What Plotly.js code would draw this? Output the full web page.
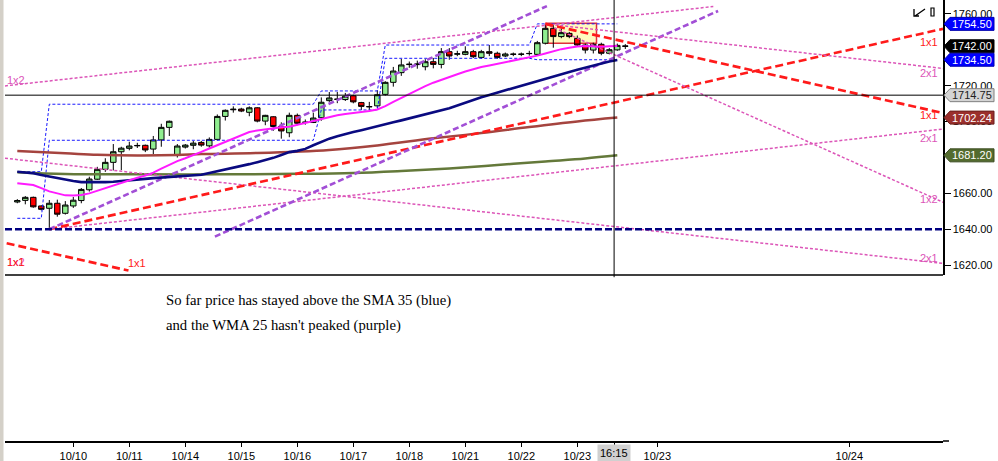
<!DOCTYPE html>
<html><head><meta charset="utf-8">
<script src="https://cdn.plot.ly/plotly-3.0.1.min.js"></script>
<style>html,body{margin:0;padding:0;background:#fff;}#chart{width:998px;height:461px;}</style>
</head><body><div id="chart"></div>
<script>
// ---- candle data (bar index 0..76) ----
const openP = [1655.2,1656.1,1657.8,1653.0,1651.7,1654.5,1648.9,1653.0,1656.0,1662.0,
1667.9,1673.4,1677.3,1683.2,1685.1,1686.5,1686.8,1684.7,1689.8,1696.8,
1681.4,1685.8,1686.8,1688.4,1686.5,1690.1,1702.9,1706.6,1707.0,1705.2,
1707.7,1700.3,1702.7,1697.3,1693.8,1703.5,1699.5,1699.5,1702.2,1711.7,
1712.4,1712.3,1714.4,1710.6,1708.2,1708.8,1715.2,1721.9,1727.3,1731.8,
1731.8,1730.6,1733.4,1731.9,1739.0,1737.6,1737.5,1739.0,1735.8,1739.0,
1738.1,1736.6,1737.5,1737.5,1737.9,1737.5,1743.7,1752.0,1747.4,1749.2,
1746.4,1742.7,1739.9,1743.1,1738.1,1740.0,1742.2];
const highP = [1656.8,1658.5,1658.2,1653.3,1656.3,1656.5,1655.7,1658.0,1663.0,1669.3,
1674.8,1679.6,1687.5,1686.0,1688.8,1688.2,1687.2,1692.0,1698.8,1700.6,
1687.5,1687.5,1689.2,1689.2,1691.2,1704.0,1706.8,1708.5,1707.7,1708.5,
1708.0,1703.8,1703.0,1699.6,1705.0,1704.5,1701.2,1705.0,1713.5,1716.5,
1716.5,1716.0,1715.0,1711.0,1711.0,1717.5,1722.5,1730.5,1735.0,1733.5,
1734.0,1734.8,1735.5,1741.0,1741.0,1739.5,1742.0,1740.0,1740.0,1742.7,
1739.0,1738.5,1738.5,1738.5,1739.5,1745.0,1754.5,1754.5,1752.0,1750.0,
1748.0,1743.5,1744.0,1744.0,1741.0,1743.5,1743.2];
const lowP = [1654.5,1653.9,1652.0,1650.5,1640.25,1647.0,1648.2,1651.9,1654.5,1661.0,
1667.5,1672.0,1672.8,1673.0,1684.0,1685.3,1683.0,1681.9,1686.0,1692.0,
1680.0,1685.0,1684.6,1686.0,1685.5,1689.5,1700.6,1705.0,1705.3,1703.0,
1699.6,1698.0,1694.9,1690.5,1691.3,1698.0,1698.3,1699.2,1700.5,1711.0,
1710.3,1711.5,1710.2,1706.5,1706.5,1707.5,1714.5,1719.5,1725.5,1730.0,
1729.5,1728.6,1729.7,1729.7,1734.5,1736.5,1737.0,1735.5,1735.0,1736.5,
1735.0,1736.0,1736.5,1736.5,1736.8,1737.0,1743.0,1741.2,1746.5,1746.5,
1742.0,1738.0,1738.0,1737.0,1737.5,1739.5,1740.5];
const closeP = [1656.0,1657.8,1652.5,1651.1,1654.5,1648.4,1653.5,1656.2,1662.2,1668.0,
1673.4,1677.3,1683.2,1685.2,1686.4,1686.7,1684.2,1689.8,1696.8,1700.2,
1686.4,1686.9,1688.0,1686.9,1690.1,1702.9,1706.3,1706.9,1705.9,1707.7,
1700.3,1703.5,1697.3,1694.8,1703.5,1699.1,1699.7,1702.0,1710.8,1713.2,
1712.5,1714.2,1711.0,1708.5,1708.4,1715.0,1721.9,1728.2,1731.6,1732.0,
1732.1,1733.4,1731.9,1739.0,1736.6,1737.8,1739.0,1736.2,1739.0,1738.1,
1735.8,1737.7,1737.6,1737.6,1738.0,1744.0,1752.0,1747.4,1749.6,1747.4,
1742.7,1739.9,1743.1,1738.1,1740.1,1742.5,1742.0];

// ---- indicators (bar index 0..75) ----
const wma25 = [1665.6,1665.2,1664.7,1662.9,1661.1,1660.0,1658.9,1658.8,1659.1,1660.0,
1661.5,1662.8,1664.4,1666.0,1667.4,1668.7,1669.9,1671.6,1673.8,1675.9,
1678.0,1679.6,1681.2,1683.1,1685.0,1686.8,1688.7,1690.5,1692.4,1694.2,
1695.1,1695.8,1696.5,1696.8,1697.1,1698.2,1699.3,1700.4,1701.5,1702.7,
1703.5,1704.2,1704.8,1705.1,1705.9,1706.8,1708.6,1711.0,1713.3,1715.6,
1717.8,1719.8,1721.7,1723.4,1724.9,1726.4,1727.9,1729.2,1730.4,1731.3,
1732.2,1733.0,1733.9,1734.8,1735.8,1736.8,1738.0,1739.3,1740.4,1741.2,
1741.9,1742.1,1741.9,1741.8,1742.0,1742.2];
const sma35 = [1672.1,1671.7,1671.2,1670.3,1669.4,1668.5,1667.6,1666.9,1666.3,1666.2,
1666.2,1666.3,1666.5,1666.8,1667.3,1667.7,1668.1,1668.5,1668.8,1669.0,
1669.3,1669.6,1669.9,1670.4,1671.4,1672.3,1673.3,1674.2,1675.3,1676.3,
1677.4,1678.4,1679.8,1681.4,1683.0,1683.7,1684.8,1686.8,1688.7,1690.5,
1691.9,1693.2,1694.2,1695.2,1696.2,1697.2,1698.5,1699.6,1700.7,1701.8,
1702.8,1704.0,1705.2,1706.4,1707.5,1709.0,1710.6,1712.1,1713.6,1714.9,
1716.2,1717.6,1718.9,1720.1,1721.4,1722.7,1724.0,1725.3,1726.5,1727.7,
1728.9,1730.1,1731.4,1732.6,1733.5,1734.4];
const slowMaIdx = [0,6,10,15,20,23,30,39,45,52,58,64,70,75];
const slowMaVal = [1683.6,1682.4,1681.5,1681.1,1681.35,1681.9,1682.5,1684.2,1686.75,1690.7,1693.6,1697.0,1700.1,1702.24];
const longMaIdx = [0,6,15,25,35,42,48,54,60,66,71,75];
const longMaVal = [1671.8,1670.8,1670.6,1670.6,1670.9,1671.4,1672.5,1673.9,1675.8,1677.8,1679.45,1681.2];

// prior-range channel, one level per segment
const chanStart = [0,4,38,46,65];
const chanEnd   = [3,37,45,64,75];
const chanUpper = [1672.1,1709.7,1717.1,1742.7,1754.5];
const chanLower = [1646.1,1689.6,1706.5,1735.3,1734.5];

// Gann fan pivots [bar, price] and ratios (points per bar)
const lowPivot  = [4, 1640];
const highPivot = [66, 1754.5];
const fanRatios = [2, 1, 0.5];
const supportLevel = 1640;
const cursorPrice = 1714.75;
const cursorBar = 74.6;
const lastPrice = 1742.00;

// axis ticks
const tickBars = [7,14,21,28,35,42,49,56,63,70,80,104];
const tickLabels = ['10/10','10/11','10/14','10/15','10/16','10/17','10/18','10/21','10/22','10/23','10/23','10/24'];
const yTicks = [1620,1640,1660,1700,1720,1760];

// ---- build ----
const XMIN = -1.5375, XMAX = 115.7125;
const bars = openP.map((_, i) => i);
const ind = wma25.map((_, i) => i);

function chanSeries(levels) {
  const xs = [], ys = [];
  chanStart.forEach((s, k) => {
    for (let i = s; i <= chanEnd[k]; i++) { xs.push(i); ys.push(levels[k]); }
  });
  return {xs, ys};
}
const up = chanSeries(chanUpper), lo = chanSeries(chanLower);

function fan(pivot, ratio, dir, xEnd) {
  return {x: [pivot[0], xEnd], y: [pivot[1], pivot[1] + dir * ratio * (xEnd - pivot[0])]};
}
function ray(x0, y0, ratio, xEnd) {
  return {x: [x0, xEnd], y: [y0, y0 + ratio * (xEnd - x0)]};
}

const RED = '#ff1a1a', PURPLE = '#a24fd6', PINK = '#dc55b8';
const redLine = {color: RED, width: 2.6, dash: '8px,4px'};
const purLine = {color: PURPLE, width: 2.6, dash: '6px,3px'};
const pinkLine = {color: PINK, width: 1.5, dash: '3px,2px'};

function lineTrace(seg, line) {
  return {type: 'scatter', mode: 'lines', x: seg.x, y: seg.y, line: line, hoverinfo: 'skip', showlegend: false};
}

const traces = [
  {type:'scatter',mode:'lines',x:up.xs,y:up.ys,line:{color:'#1a1aff',width:1,dash:'3px,2px'},hoverinfo:'skip'},
  {type:'scatter',mode:'lines',x:lo.xs,y:lo.ys,line:{color:'#1a1aff',width:1,dash:'3px,2px'},hoverinfo:'skip'},
  {type:'scatter',mode:'lines',x:slowMaIdx,y:slowMaVal,line:{color:'#a5443f',width:2.5,shape:'spline'},hoverinfo:'skip'},
  {type:'scatter',mode:'lines',x:longMaIdx,y:longMaVal,line:{color:'#64793a',width:2.5,shape:'spline'},hoverinfo:'skip'},
  // fan lines
  lineTrace(ray(-1.54, 1719.9, 0.5, 87), pinkLine),
  lineTrace(ray(-1.54, 1679.6, -0.5, XMAX), pinkLine),
  lineTrace(ray(-1.33, 1632.2, -1, 13.9), redLine),
  lineTrace(fan(lowPivot, fanRatios[2], 1, XMAX), pinkLine),
  lineTrace(fan(lowPivot, fanRatios[1], 1, XMAX), redLine),
  lineTrace(fan(lowPivot, fanRatios[0], 1, 66.2), purLine),
  lineTrace(ray(24.7, 1635.9, 2, 87.6), purLine),
  lineTrace(fan(highPivot, fanRatios[2], -1, XMAX), pinkLine),
  lineTrace(fan(highPivot, fanRatios[0], -1, XMAX), pinkLine),
  lineTrace(fan(highPivot, fanRatios[1], -1, XMAX), redLine),
  {type:'scatter',mode:'lines',x:ind,y:sma35,line:{color:'#0a0a80',width:2.6},hoverinfo:'skip'},
  {type:'scatter',mode:'lines',x:ind,y:wma25,line:{color:'#ff1aff',width:2},hoverinfo:'skip'},
  {type:'candlestick', x: bars, open: openP, high: highP, low: lowP, close: closeP,
   increasing:{line:{color:'#000000',width:1},fillcolor:'#90ee90'},
   decreasing:{line:{color:'#000000',width:1},fillcolor:'#ff0000'},
   whiskerwidth:0, hoverinfo:'skip'}
];

const px2p = px => (px - 5) / 938;
const py2p = py => (441 - py) / 441;
const PPX = (1767.8 - 1614.5) / 275; // price per pixel
const PANE_BOTTOM = py2p(275);

const priceTags = [
  {v:1754.50, bg:'#0000ff', fg:'#ffffff', bd:'#0000b0'},
  {v:lastPrice, bg:'#000000', fg:'#ffffff', bd:'#000000'},
  {v:1734.50, bg:'#0000ff', fg:'#ffffff', bd:'#0000b0'},
  {v:cursorPrice, bg:'#d4d4d4', fg:'#202020', bd:'#808080'},
  {v:slowMaVal[slowMaVal.length-1], bg:'#9b2f2c', fg:'#ffffff', bd:'#6b1f1c'},
  {v:longMaVal[longMaVal.length-1], bg:'#536b2e', fg:'#ffffff', bd:'#3a4b20'}
];

const shapes = [
  {type:'rect', xref:'x', yref:'y', x0:66.1, x1:72.4, y0:1743.7, y1:1754.8,
   fillcolor:'rgba(255,250,170,0.75)', line:{color:'#e0303a', width:1.5}, layer:'below'},
  {type:'line', xref:'paper', yref:'y', x0:0, x1:1, y0:supportLevel, y1:supportLevel,
   line:{color:'#000080', width:2.4, dash:'7px,3px'}},
  {type:'line', xref:'paper', yref:'y', x0:0, x1:1, y0:cursorPrice, y1:cursorPrice, line:{color:'#000', width:1}},
  {type:'line', xref:'x', yref:'paper', x0:cursorBar, x1:cursorBar, y0:PANE_BOTTOM - 0.005, y1:1, line:{color:'#000', width:1}},
  {type:'line', xref:'paper', yref:'paper', x0:0, x1:1, y0:PANE_BOTTOM, y1:PANE_BOTTOM, line:{color:'#000', width:1.5}},
  {type:'line', xref:'paper', yref:'paper', x0:1, x1:px2p(949), y0:0, y1:0, line:{color:'#000', width:1.5}},
  {type:'rect', xref:'paper', yref:'paper', x0:px2p(0), x1:px2p(3.5), y0:-0.05, y1:1.01, fillcolor:'#d4d0c8', line:{width:0}},
  {type:'path', xref:'paper', yref:'paper', path:
    `M ${px2p(914)} ${py2p(9)} L ${px2p(914)} ${py2p(16)} L ${px2p(919)} ${py2p(16)} M ${px2p(915)} ${py2p(16)} L ${px2p(925)} ${py2p(9)}`,
   line:{color:'#000', width:1.3}},
  {type:'rect', xref:'paper', yref:'paper', x0:px2p(931), x1:px2p(934), y0:py2p(16), y1:py2p(8), line:{color:'#000', width:1.2}}
];
priceTags.forEach(t => {
  const h = 6.5 * PPX;
  shapes.push({type:'path', xref:'paper', yref:'y', layer:'above',
    path:`M ${px2p(944)} ${t.v} L ${px2p(950)} ${t.v+h} L ${px2p(994)} ${t.v+h} L ${px2p(994)} ${t.v-h} L ${px2p(950)} ${t.v-h} Z`,
    fillcolor:t.bg, line:{color:t.bd, width:1}});
});

const FONT = 'Liberation Sans, Arial, sans-serif';
const annotations = priceTags.map(t => ({
  xref:'paper', yref:'y', x:px2p(972), y:t.v, text:t.v.toFixed(2), showarrow:false,
  xanchor:'center', yanchor:'middle', font:{family:FONT, size:11, color:t.fg}
}));
const gannTags = [
  {t:'1x1', c:RED, x:928.5, y:41.7},
  {t:'2x1', c:PINK, x:928.5, y:73.3},
  {t:'1x1', c:RED, x:928.5, y:115},
  {t:'2x1', c:PINK, x:928.5, y:138.3},
  {t:'1x2', c:PINK, x:928.5, y:199},
  {t:'2x1', c:PINK, x:928.5, y:258.3},
  {t:'1x2', c:PINK, x:15.5, y:80},
  {t:'1x2', c:PINK, x:16, y:261.7},
  {t:'1x1', c:RED, x:16, y:261.7},
  {t:'1x1', c:RED, x:137, y:263.3}
];
gannTags.forEach(g => annotations.push({xref:'paper', yref:'paper', x:px2p(g.x), y:py2p(g.y), text:g.t,
  showarrow:false, xanchor:'center', yanchor:'middle', font:{family:FONT, size:11, color:g.c}}));
const SERIF = 'Liberation Serif, Times New Roman, serif';
annotations.push({xref:'paper', yref:'paper', x:px2p(164), y:py2p(300), text:'So far price has stayed above the SMA 35 (blue)',
  showarrow:false, xanchor:'left', yanchor:'middle', font:{family:SERIF, size:14.7, color:'#000'}});
annotations.push({xref:'paper', yref:'paper', x:px2p(164), y:py2p(325), text:"and the WMA 25 hasn't peaked (purple)",
  showarrow:false, xanchor:'left', yanchor:'middle', font:{family:SERIF, size:14.7, color:'#000'}});
annotations.push({xref:'x', yref:'paper', x:cursorBar, y:py2p(453), text:'16:15', showarrow:false,
  xanchor:'center', yanchor:'middle', bgcolor:'#d0d0d0', borderpad:2, font:{family:FONT, size:11, color:'#000'}});

const layout = {
  width:998, height:461, margin:{l:5, r:55, t:0, b:20},
  paper_bgcolor:'#ffffff', plot_bgcolor:'#ffffff', showlegend:false, hovermode:false,
  boxgap:0.2, boxgroupgap:0.15,
  xaxis:{range:[XMIN, XMAX], anchor:'free', position:0, showgrid:false, zeroline:false,
    rangeslider:{visible:false}, tickvals:tickBars.concat([cursorBar]), ticktext:tickLabels.concat(['']),
    ticks:'outside', ticklen:4, tickcolor:'#000', showline:true, linecolor:'#000', linewidth:1.5,
    tickfont:{family:FONT, size:11, color:'#000'}, fixedrange:true},
  yaxis:{domain:[PANE_BOTTOM, 1], range:[1614.5, 1767.8], side:'right', showgrid:false, zeroline:false,
    tickvals:yTicks, tickformat:'.2f', ticks:'outside', ticklen:6, tickcolor:'#000',
    showline:true, linecolor:'#000', linewidth:1.5, tickfont:{family:FONT, size:11, color:'#000'}, fixedrange:true},
  shapes:shapes, annotations:annotations
};

Plotly.newPlot('chart', traces, layout, {staticPlot:true, displayModeBar:false});
</script></body></html>
